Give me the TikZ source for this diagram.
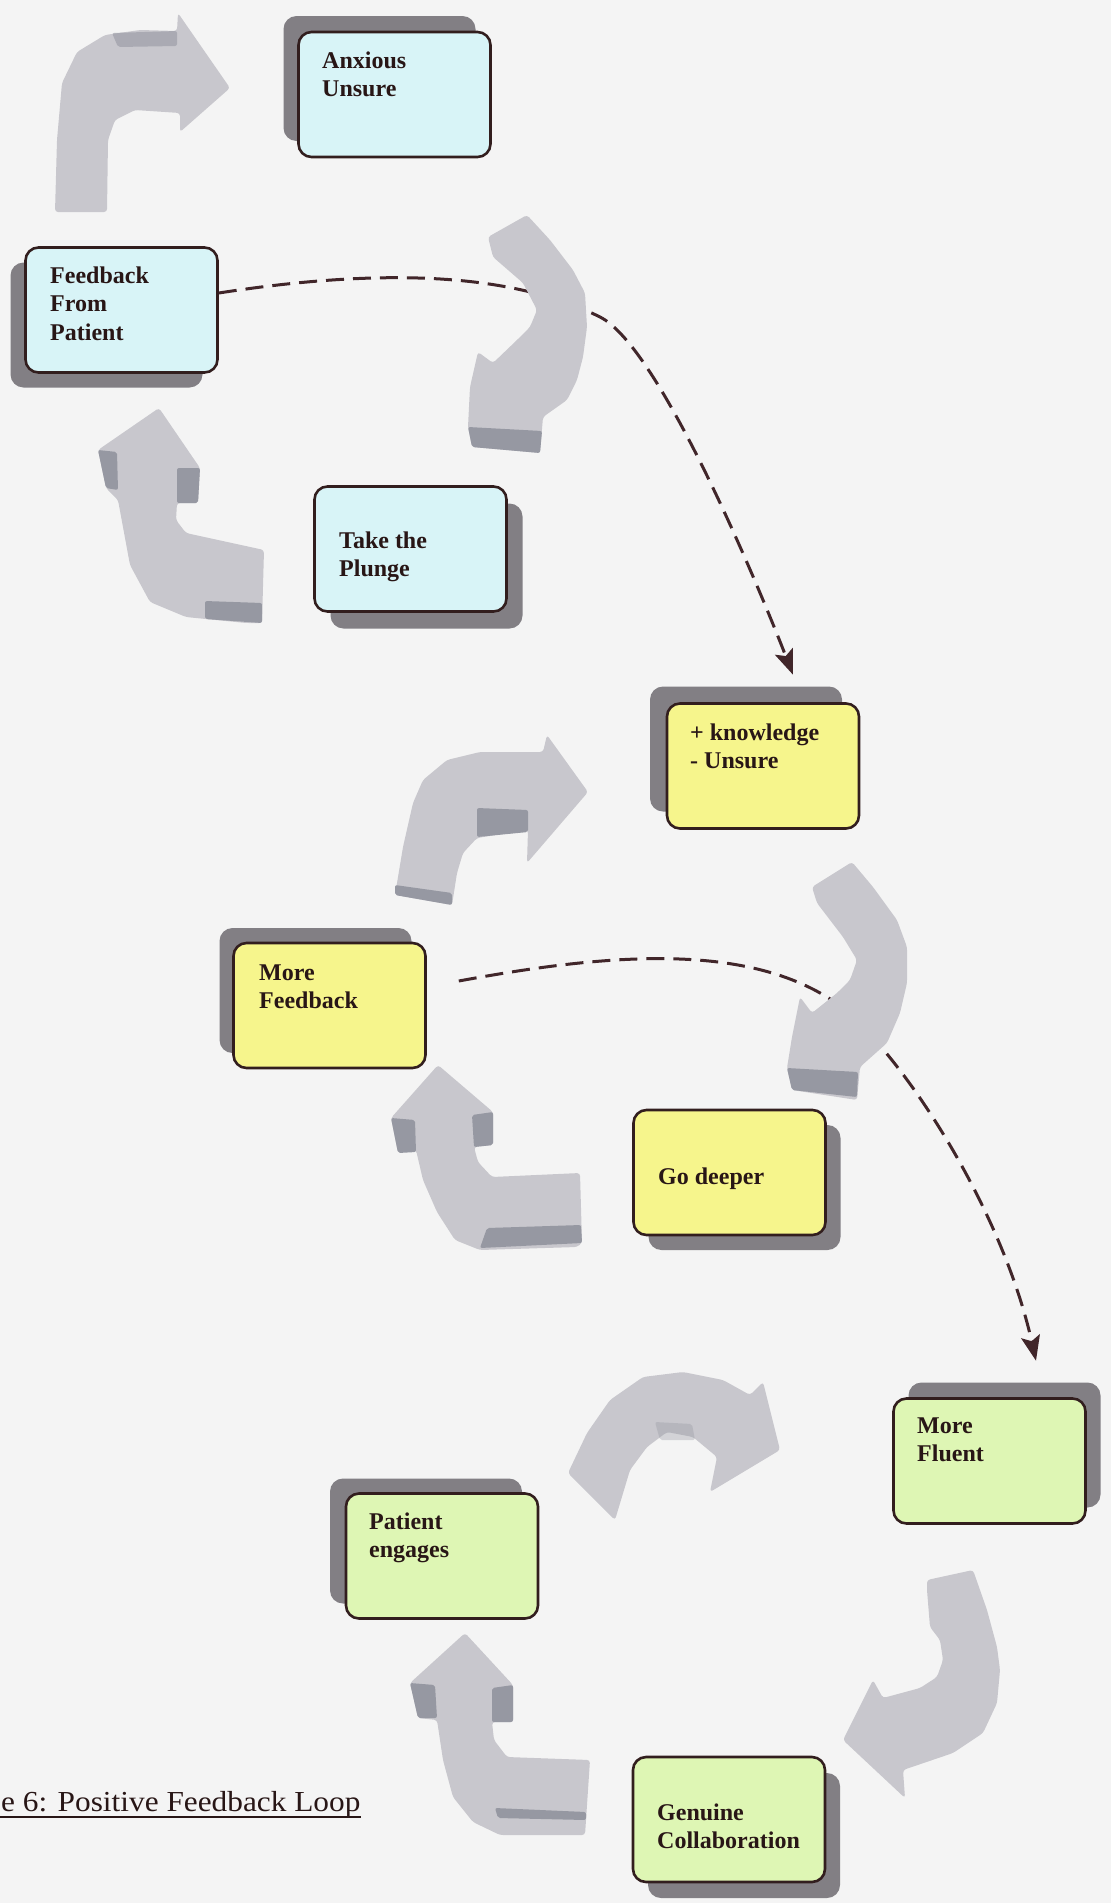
\documentclass[tikz,border=0pt]{standalone}
\usepackage{fontspec}
\setmainfont{Liberation Serif}
\usetikzlibrary{arrows.meta}
\definecolor{bgc}{RGB}{244,244,244}
\definecolor{arrowc}{RGB}{200,199,205}
\definecolor{arrowdark}{RGB}{150,152,162}
\definecolor{shadowc}{RGB}{130,127,132}
\definecolor{boxline}{RGB}{50,30,30}
\definecolor{txtc}{RGB}{40,22,22}
\definecolor{cyanbox}{RGB}{216,244,247}
\definecolor{yellowbox}{RGB}{246,245,140}
\definecolor{greenbox}{RGB}{222,246,180}
\definecolor{dashc}{RGB}{65,38,42}
\newcommand\boxshadow[2]{\fill[shadowc,rounded corners=13pt] ({#1-96},{#2-62.5}) rectangle ({#1+96},{#2+62.5});}
\begin{document}
\begin{tikzpicture}[x=1pt,y=-1pt,
  box/.style={draw=boxline,line width=2.6pt,rounded corners=13pt,minimum width=192pt,minimum height=125pt,inner sep=0pt},
  lbl/.style={anchor=north west,inner sep=0pt,align=left,text=txtc,font=\fontsize{24}{28.5}\selectfont\bfseries},
  dashline/.style={draw=dashc,line width=3pt,dash pattern=on 18pt off 9pt,-{Stealth[length=25pt,width=19pt,inset=5pt]}},
  arr/.style={fill=arrowc,rounded corners=3pt},
  arrd/.style={fill=arrowdark,rounded corners=2pt}]
\fill[bgc] (0,0) rectangle (1111,1903);
\useasboundingbox (0,0) rectangle (1111,1903);

% shadows
\boxshadow{379.5}{78.5}
\boxshadow{106.5}{325}
\boxshadow{426.5}{566}
\boxshadow{746}{749}
\boxshadow{315.5}{990.5}
\boxshadow{744.5}{1187.5}
\boxshadow{1004.5}{1445}
\boxshadow{426}{1541}
\boxshadow{744}{1835.5}

% boxes
\node[box,fill=cyanbox] (anx) at (394.5,94.5) {};
\node[box,fill=cyanbox] (fb) at (121.5,310) {};
\node[box,fill=cyanbox] (plunge) at (410.5,549) {};
\node[box,fill=yellowbox] (know) at (763,766) {};
\node[box,fill=yellowbox] (morefb) at (329.5,1005.5) {};
\node[box,fill=yellowbox] (deeper) at (729.5,1172.5) {};
\node[box,fill=greenbox] (fluent) at (989.5,1461) {};
\node[box,fill=greenbox] (engages) at (442,1556) {};
\node[box,fill=greenbox] (genuine) at (729,1819.5) {};

% labels
\node[lbl] (anxT) at (322,48) {\strut Anxious\\Unsure};
\node[lbl] (fbT) at (50,263) {\strut Feedback\\From\\Patient};
\node[lbl] (plungeT) at (339,528) {\strut Take the\\Plunge};
\node[lbl] (knowT) at (690,720) {\strut + knowledge\\- Unsure};
\node[lbl] (morefbT) at (259,960) {\strut More\\Feedback};
\node[lbl] (deeperT) at (658,1164) {\strut Go deeper};
\node[lbl] (fluentT) at (917,1413) {\strut More\\Fluent};
\node[lbl] (engagesT) at (369,1509) {\strut Patient\\engages};
\node[lbl] (genuineT) at (657,1800) {\strut Genuine\\Collaboration};

% dashed connectors
\draw[dashline] ([yshift=17pt]fb.east) .. controls (380,268) and (510,272) .. (600,317)
   .. controls (660,347) and (760,590) .. ([xshift=30pt,yshift=27.5pt]know.north);
\draw[dashline] ([xshift=32pt,yshift=24.5pt]morefb.east) .. controls (600,955) and (737,942) .. (827,997)
   .. controls (890,1035) and (1000,1200) .. ([xshift=46.5pt,yshift=36.5pt]fluent.north);

% cycle 1 arrows
\fill[arr] (55,212) -- (57,140) -- (62,83) -- (77,52) -- (105,35) -- (140,30) -- (177,31) -- (178,13) -- (230,88) -- (180,132) -- (180,113) -- (135,110) -- (115,120) -- (108,140) -- (107,212) -- cycle;
\fill[arrd,opacity=0.6] (112,33) -- (177,31) -- (177,46) -- (118,47) -- cycle;
\fill[arr] (527,215) -- (550,240) -- (573,270) -- (585,293) -- (587,327) -- (583,357) -- (577,380) -- (567,400) -- (543,417) -- (540,453) -- (472,447) -- (468,427) -- (470,387) -- (478,352) -- (493,363) -- (517,340) -- (530,327) -- (537,310) -- (523,283) -- (493,257) -- (488,237) -- cycle;
\fill[arrd] (468,427) -- (542,431) -- (540,453) -- (472,447) -- cycle;
\fill[arr] (159,408) -- (200,468) -- (198,503) -- (177,503) -- (176,520) -- (186,533) -- (264,550) -- (262,623) -- (246,623) -- (186,617) -- (150,602) -- (130,565) -- (118,500) -- (106,488) -- (98,450) -- cycle;
\fill[arrd] (98,450) -- (117,452) -- (118,490) -- (106,488) -- cycle;
\fill[arrd] (177,468) -- (200,468) -- (198,503) -- (177,503) -- cycle;
\fill[arrd] (205,601) -- (262,603) -- (262,623) -- (205,619) -- cycle;

% cycle 2 arrows
\fill[arr] (395,895) -- (403,847) -- (413,803) -- (423,780) -- (447,760) -- (480,752) -- (543,752) -- (547,735) -- (588,792) -- (527,863) -- (528,830) -- (477,838) -- (463,853) -- (457,873) -- (452,905) -- cycle;
\fill[arrd] (477,808) -- (528,810) -- (528,832) -- (477,837) -- cycle;
\fill[arrd] (395,885) -- (452,893) -- (452,905) -- (395,895) -- cycle;
\fill[arr] (852,862) -- (873,887) -- (897,920) -- (907,947) -- (907,983) -- (900,1013) -- (887,1043) -- (860,1067) -- (857,1100) -- (792,1090) -- (787,1068) -- (792,1037) -- (800,997) -- (812,1013) -- (837,993) -- (850,980) -- (857,960) -- (843,937) -- (817,903) -- (812,887) -- cycle;
\fill[arrd] (787,1068) -- (858,1072) -- (857,1097) -- (792,1090) -- cycle;
\fill[arr] (438,1065) -- (493,1112) -- (493,1145) -- (474,1147) -- (478,1162) -- (492,1177) -- (580,1173) -- (582,1243) -- (577,1247) -- (480,1250) -- (455,1240) -- (437,1212) -- (423,1180) -- (416,1150) -- (398,1153) -- (391,1118) -- cycle;
\fill[arrd] (391,1118) -- (415,1120) -- (416,1152) -- (398,1153) -- cycle;
\fill[arrd] (472,1115) -- (493,1112) -- (493,1145) -- (474,1147) -- cycle;
\fill[arrd] (487,1228) -- (581,1225) -- (582,1243) -- (480,1248) -- cycle;

% cycle 3 arrows
\fill[arr] (568,1473) -- (587,1433) -- (610,1400) -- (643,1377) -- (683,1372) -- (723,1380) -- (750,1395) -- (763,1382) -- (780,1450) -- (710,1492) -- (717,1457) -- (693,1437) -- (667,1432) -- (647,1447) -- (630,1470) -- (615,1520) -- cycle;
\fill[arrd,opacity=0.35] (655,1422) -- (692,1424) -- (695,1440) -- (660,1440) -- cycle;
\fill[arr] (927,1580) -- (973,1570) -- (987,1610) -- (997,1647) -- (1000,1670) -- (997,1703) -- (983,1733) -- (953,1753) -- (903,1770) -- (905,1798) -- (843,1740) -- (873,1680) -- (883,1698) -- (920,1688) -- (937,1677) -- (943,1660) -- (940,1640) -- (930,1627) -- (927,1590) -- cycle;
\fill[arr] (465,1633) -- (513,1685) -- (513,1722) -- (492,1722) -- (494,1740) -- (507,1757) -- (590,1760) -- (585,1835) -- (500,1835) -- (473,1822) -- (453,1797) -- (443,1760) -- (437,1720) -- (418,1718) -- (410,1683) -- cycle;
\fill[arrd] (410,1683) -- (435,1685) -- (437,1718) -- (418,1718) -- cycle;
\fill[arrd] (492,1688) -- (513,1685) -- (513,1722) -- (492,1722) -- cycle;
\fill[arrd] (495,1808) -- (586,1812) -- (586,1820) -- (498,1818) -- cycle;

% caption
\node[anchor=base west,inner sep=0pt,text=txtc,font=\fontsize{29}{34}\selectfont] (cap) at (1,1811) {\scalebox{1.08}[1]{e 6: Positive Feedback Loop}};
\draw[txtc,line width=1.5pt] (0,1817) -- (cap.east |- 0,1817);
\end{tikzpicture}
\end{document}
